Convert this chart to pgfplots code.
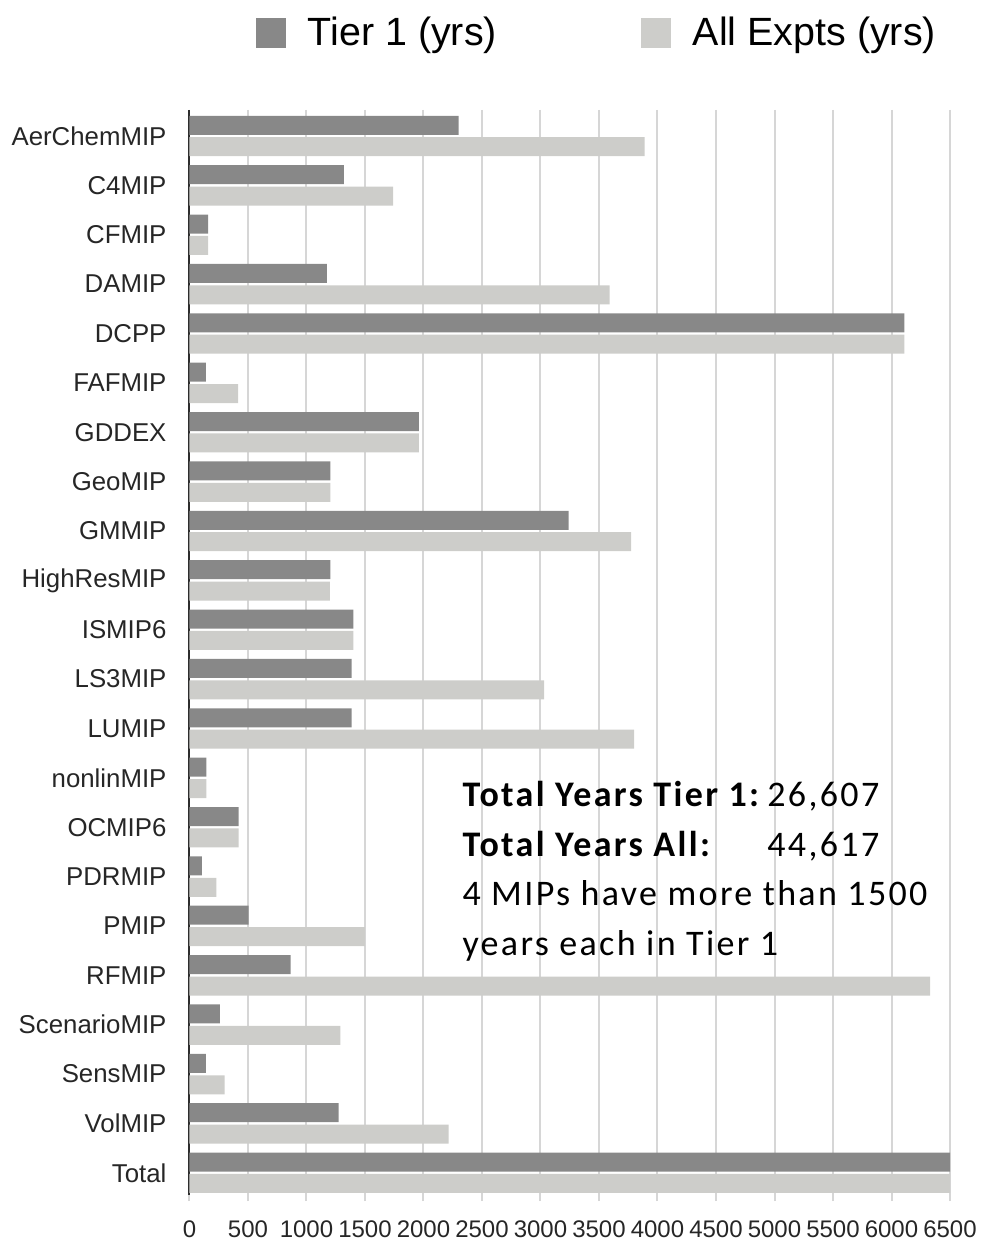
\documentclass[border=0pt]{standalone}
\usepackage{pgfplots}
\pgfplotsset{compat=1.18}
\usepackage{fontspec}
\setmainfont{Liberation Sans}
\newfontfamily\calibri[LetterSpace=6.5]{Carlito}
\definecolor{tierone}{RGB}{136,136,136}
\definecolor{allexp}{RGB}{205,205,202}
\definecolor{gridc}{RGB}{214,214,214}
\definecolor{axisc}{RGB}{45,45,45}
\begin{document}
\begin{tikzpicture}
\path[use as bounding box] (-94.75pt,-22.5pt) rectangle (396.25pt,597.5pt);
\begin{axis}[
  at={(0,0)}, anchor=south west,
  scale only axis, width=380.25pt, height=542.5pt,
  xbar, bar width=9.5pt,
  xmin=0, xmax=6500, ymin=-0.527, ymax=21.45, y dir=reverse,
  xtick distance=500,
  ytick={0,...,21},
  yticklabels={AerChemMIP,C4MIP,CFMIP,DAMIP,DCPP,FAFMIP,GDDEX,GeoMIP,GMMIP,{HighResMIP\hspace{5pt}},ISMIP6,LS3MIP,LUMIP,nonlinMIP,OCMIP6,PDRMIP,PMIP,RFMIP,ScenarioMIP,SensMIP,VolMIP,Total},
  axis lines*=left,
  x axis line style={draw=none},
  y axis line style={draw=axisc, line width=1pt},
  xmajorgrids, grid style={draw=gridc, line width=1pt},
  xtick style={draw=gridc, line width=1pt}, tick align=outside, major tick length=3pt,
  ytick style={draw=none},
  xticklabel style={font=\fontsize{12}{14}\selectfont, yshift=-6.5pt, text=black!85},
  yticklabel style={font=\fontsize{12.9}{15}\selectfont, text=black!85, xshift=-5pt},
  /pgf/number format/assume math mode=true,
  /pgf/number format/1000 sep={},
  legend columns=2,
  legend image code/.code={\fill[#1] (0pt,-7.5pt) rectangle (15pt,7.5pt);},
  legend style={draw=none, fill=none, inner sep=0pt, outer sep=0pt,
    at={(0.0874,1.071)}, anchor=west,
    font=\fontsize{19.7}{23}\selectfont,
    /tikz/every odd column/.append style={column sep=11pt},
    /tikz/every even column/.append style={column sep=72pt},
    nodes={inner sep=0pt}},
]
\addplot[fill=tierone, draw=none, bar shift=5.35pt] coordinates {
(2300,0) (1320,1) (160,2) (1175,3) (6110,4) (140,5) (1960,6) (1205,7) (3240,8) (1205,9) (1400,10) (1385,11) (1385,12) (145,13) (420,14) (105,15) (505,16) (865,17) (260,18) (140,19) (1275,20) (26607,21)};
\addlegendentry{Tier 1 (yrs)}
\addplot[fill=allexp, draw=none, bar shift=-5.35pt] coordinates {
(3890,0) (1740,1) (160,2) (3590,3) (6110,4) (415,5) (1960,6) (1205,7) (3775,8) (1200,9) (1400,10) (3030,11) (3800,12) (145,13) (420,14) (230,15) (1500,16) (6330,17) (1290,18) (300,19) (2215,20) (44617,21)};
\addlegendentry{All Expts (yrs)}
\node[anchor=base west, inner sep=0pt] at (axis cs:2330,13.59) {\calibri\fontsize{18}{24.75}\selectfont
\begin{tabular}[t]{@{}l@{\hspace{3pt}}l@{}}
\textbf{Total Years Tier 1:} & 26,607\\
\textbf{Total Years All:} & 44,617\\
\multicolumn{2}{@{}l@{}}{4 MIPs have more than 1500}\\
\multicolumn{2}{@{}l@{}}{years each in Tier 1}
\end{tabular}};
\end{axis}
\end{tikzpicture}
\end{document}
